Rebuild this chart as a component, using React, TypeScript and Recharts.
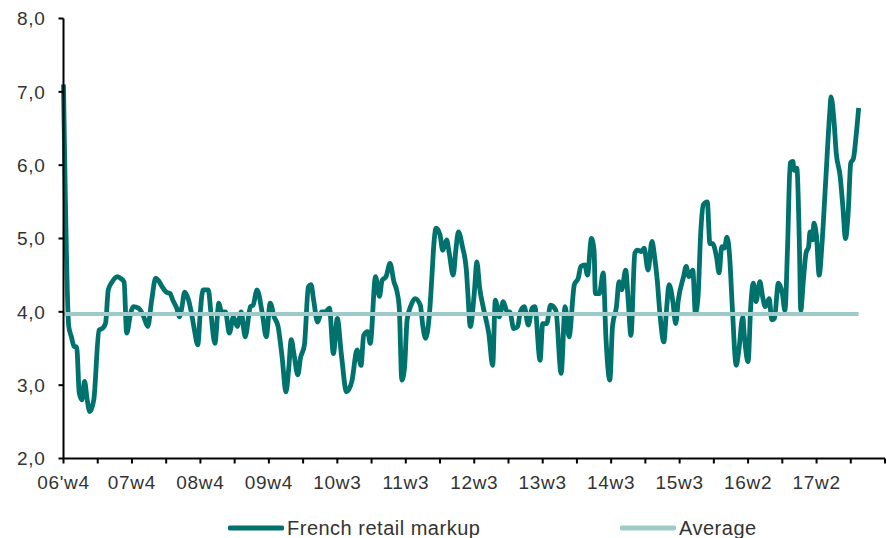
import React from "react";
import { LineChart, Line, XAxis, YAxis, Legend } from "recharts";

const weeks = [0,4,6,8,10,12,14,16,18,20,23,27,30,32,34,37,41,43,46,48,51,53,57,61,64,67,70,72,75,78,81,83,86,88,90,92,95,97,99,102,104,106,110,112,115,118,120,123,126,129,132,135,138,142,144,147,151,154,157,160,163,166,169,171,173,175,178,180,183,186,188,190,193,196,199,202,205,208,211,215,219,223,226,228,231,233,237,240,242,245,248,251,253,255,257,259,261,264,267,271,273,275,278,280,281,283,286,288,291,293,296,298,300,303,306,307,309,312,314,316,319,321,323,326,328,331,334,337,339,342,345,347,350,353,356,358,362,364,367,370,374,378,381,384,388,391,393,396,398,401,403,404,407,410,412,415,417,420,422,424,427,429,431,434,436,439,441,444,447,449,451,453,456,458,460,463,465,467,471,473,475,478,480,482,484,486,489,491,493,496,498,500,502,504,506,508,511,513,516,517,520,522,524,526,529,531,533,536,538,540,543,546,548,550,552,554,555,557,559,560,562,564,566,567,569,570,572,574,576,579,582,583,585,587,590,592,594,596,598,600,602,604];

const markup = [7.10,3.80,3.66,3.53,3.52,2.89,2.80,3.05,2.80,2.64,2.80,3.75,3.78,3.85,4.30,4.41,4.48,4.46,4.41,3.71,3.98,4.07,4.05,3.93,3.80,4.16,4.46,4.43,4.34,4.27,4.25,4.16,4.05,3.93,4.07,4.27,4.16,4.00,3.80,3.55,4.02,4.30,4.30,3.98,3.57,4.12,4.00,4.00,3.71,3.93,3.80,4.00,3.66,4.07,4.09,4.30,3.98,3.66,4.12,3.93,3.80,3.39,2.91,3.21,3.62,3.43,3.14,3.37,3.55,4.34,4.37,4.16,3.86,4.00,4.00,4.05,3.43,3.91,3.43,2.91,3.05,3.48,3.27,3.68,3.73,3.57,4.48,4.21,4.43,4.48,4.66,4.41,4.30,4.07,3.07,3.23,3.89,4.09,4.18,4.09,3.80,3.64,3.98,4.53,4.84,5.14,5.05,4.84,4.98,4.80,4.50,4.84,5.09,4.89,4.57,4.30,3.80,4.25,4.68,4.34,4.05,3.89,3.71,3.27,4.16,3.93,4.14,4.00,4.00,3.77,3.80,4.00,4.07,3.82,4.05,4.07,3.34,3.84,3.84,4.09,4.02,3.16,4.07,3.66,4.37,4.46,4.62,4.64,4.50,5.00,4.84,4.25,4.25,4.53,3.66,3.07,3.80,4.07,4.41,4.30,4.57,4.14,3.68,4.80,4.84,4.82,4.87,4.57,4.96,4.75,4.43,3.98,3.59,4.02,4.37,4.12,3.84,4.16,4.48,4.62,4.48,4.57,3.98,4.21,5.07,5.46,5.50,4.93,4.93,4.75,4.53,4.89,4.87,5.02,4.75,4.07,3.27,3.48,3.93,3.71,3.32,4.07,4.39,4.14,4.41,4.21,4.07,4.18,3.89,3.91,4.39,4.25,4.02,4.89,6.03,6.05,5.93,5.96,4.89,4.02,4.43,4.80,4.89,5.09,4.98,5.21,5.02,4.50,4.89,5.80,6.71,6.93,6.66,6.16,5.84,5.43,5.00,5.34,6.03,6.09,6.39,6.78];

const averageValue = 3.97;

const tickLabels = ["06'w4","07w4","08w4","09w4","10w3","11w3","12w3","13w3","14w3","15w3","16w2","17w2"];
const weeksPerLabel = 52;
const weeksPerTick = 26;
const axisEndWeek = 624;
const yTicks = [2,3,4,5,6,7,8];

const seriesNames = { markup: "French retail markup", avg: "Average" };
const colors = { markup: "#00726E", avg: "#9FCACA", text: "#333333", axis: "#000000" };

const data = weeks.map((w, i) => ({ week: w, markup: markup[i], avg: averageValue }));
const xTicks: number[] = [];
for (let t = 0; t <= axisEndWeek; t += weeksPerTick) xTicks.push(t);

const FONT = "'Liberation Sans', Arial, sans-serif";

const xFormat = (v: number) => {
  if (v % weeksPerLabel !== 0) return "";
  return tickLabels[v / weeksPerLabel] ?? "";
};
const yFormat = (v: number) => v.toFixed(1).replace(".", ",");

const renderLegend = () => {
  const items = [
    { name: seriesNames.markup, color: colors.markup, left: 228 },
    { name: seriesNames.avg, color: colors.avg, left: 620 },
  ];
  return (
    <div style={{ position: "relative", width: 887, height: 24, fontFamily: FONT, fontSize: 20, letterSpacing: 0.5, color: colors.text }}>
      {items.map((it) => (
        <div key={it.name} style={{ position: "absolute", left: it.left, top: 0, height: 24, display: "flex", alignItems: "center", whiteSpace: "nowrap" }}>
          <svg width={56} height={8} style={{ marginRight: 3 }}>
            <line x1={2} y1={4} x2={54} y2={4} stroke={it.color} strokeWidth={4.8} strokeLinecap="round" />
          </svg>
          <span>{it.name}</span>
        </div>
      ))}
    </div>
  );
};

export default function App() {
  return (
    <div style={{ position: "absolute", left: 0, top: 0, width: 887, height: 538, background: "#fff" }}>
      <LineChart width={887} height={538} data={data} margin={{ top: 18.5, right: 2, left: 0, bottom: 0 }}>
        <XAxis
          dataKey="week"
          type="number"
          domain={[0, axisEndWeek]}
          ticks={xTicks}
          interval={0}
          tickFormatter={xFormat}
          height={55.5}
          tickSize={5}
          tickMargin={12}
          stroke={colors.axis}
          strokeWidth={2}
          tick={{ fill: colors.text, fontSize: 19, fontFamily: FONT, letterSpacing: 0.7 }}
          tickLine={{ stroke: colors.axis, strokeWidth: 2 }}
        />
        <YAxis
          type="number"
          domain={[2, 8]}
          ticks={yTicks}
          interval={0}
          tickFormatter={yFormat}
          width={63.5}
          tickSize={5}
          tickMargin={13}
          stroke={colors.axis}
          strokeWidth={2}
          tick={{ fill: colors.text, fontSize: 19, fontFamily: FONT, letterSpacing: 0.7 }}
          tickLine={{ stroke: colors.axis, strokeWidth: 2 }}
        />
        <Legend
          verticalAlign="bottom"
          content={renderLegend}
          wrapperStyle={{ position: "absolute", left: 0, top: 516, width: 887, height: 24 }}
        />
        <Line
          type="monotone"
          dataKey="markup"
          name={seriesNames.markup}
          stroke={colors.markup}
          strokeWidth={4.8}
          dot={false}
          strokeLinejoin="round"
          isAnimationActive={false}
        />
        <Line
          type="linear"
          dataKey="avg"
          name={seriesNames.avg}
          stroke={colors.avg}
          strokeWidth={4}
          dot={false}
          isAnimationActive={false}
        />
      </LineChart>
    </div>
  );
}
